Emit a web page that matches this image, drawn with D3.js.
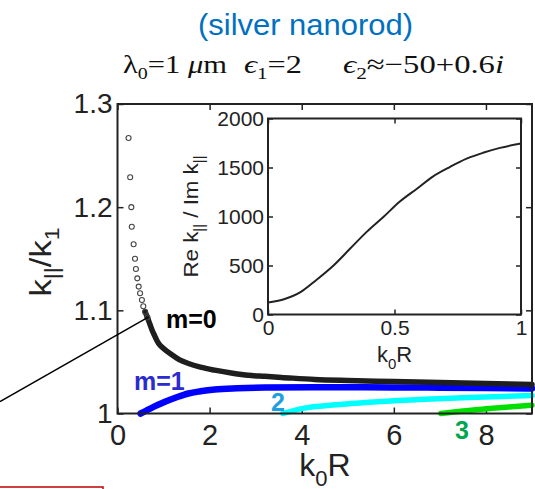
<!DOCTYPE html>
<html>
<head>
<meta charset="utf-8">
<script src="https://cdn.jsdelivr.net/npm/d3@7"></script>
<style>
  body { margin: 0; background: #fff; }
  text { font-family: "Liberation Sans", Arial, sans-serif; }
</style>
</head>
<body>
<div id="chart"></div>
<script>
// ---- data ----
// m=0, sparse open markers at small k0R
const m0MarkX = [0.24, 0.275, 0.30, 0.31, 0.35, 0.38, 0.40, 0.43, 0.46, 0.49, 0.53, 0.56, 0.60, 0.65];
const m0MarkY = [1.267, 1.229, 1.200, 1.181, 1.164, 1.150, 1.140, 1.131, 1.123, 1.1165, 1.110, 1.104, 1.0986, 1.093];
// m=0, dense part (markers overlap into a thick line)
const m0X = [0.60, 0.65, 0.70, 0.75, 0.80, 0.89, 1.0, 1.18, 1.35, 1.54, 1.8, 2.11, 2.5, 2.84, 3.2, 3.56, 4.28, 5, 6, 7, 8, 9];
const m0Y = [1.0986, 1.093, 1.087, 1.081, 1.076, 1.068, 1.063, 1.057, 1.052, 1.0485, 1.045, 1.042, 1.039, 1.037, 1.036, 1.035, 1.033, 1.032, 1.031, 1.030, 1.029, 1.028];
// m=1
const m1X = [0.5, 0.7, 1.03, 1.3, 1.54, 1.8, 2.11, 2.6, 3.2, 4.28, 5, 6, 7, 8, 9];
const m1Y = [1.0, 1.0045, 1.0113, 1.016, 1.0194, 1.0215, 1.0233, 1.0245, 1.0252, 1.0255, 1.0255, 1.0253, 1.025, 1.0247, 1.0243];
// m=2
const m2X = [3.59, 4.03, 4.75, 5.47, 6.55, 7.63, 9.0];
const m2Y = [1.0, 1.005, 1.0085, 1.011, 1.0135, 1.0155, 1.0175];
// m=3
const m3X = [7.02, 7.5, 8, 8.5, 9];
const m3Y = [1.0, 1.0025, 1.0045, 1.0063, 1.008];
// inset: Re k|| / Im k|| vs k0R (m=0)
const insetX = [0, 0.06, 0.13, 0.19, 0.26, 0.325, 0.39, 0.457, 0.52, 0.59, 0.65, 0.72, 0.785, 0.85, 0.917, 1.0];
const insetY = [122, 153, 231, 350, 503, 673, 843, 997, 1150, 1286, 1405, 1507, 1590, 1650, 1700, 1745];

// ticks
const mainXTicks = [0, 2, 4, 6, 8];
const mainYTicks = [1, 1.1, 1.2, 1.3];
const insetXTicks = [0, 0.5, 1];
const insetYTicks = [0, 500, 1000, 1500, 2000];
const modeLabels = ["m=0", "m=1", "2", "3"];

const width = 535, height = 489;
const main = {left: 117.5, right: 532, top: 104, bottom: 413.5};
const ins = {left: 268, right: 521, top: 118.5, bottom: 314.5};
const axisColor = "#222";

let svg = d3.select("#chart")
    .append("svg")
    .attr("width", width)
    .attr("height", height);

let x = d3.scaleLinear().domain([0, 9]).range([main.left, main.right]);
let y = d3.scaleLinear().domain([1, 1.3]).range([main.bottom, main.top]);

let xi = d3.scaleLinear().domain([0, 1]).range([ins.left, ins.right]);
let yi = d3.scaleLinear().domain([0, 2000]).range([ins.bottom, ins.top]);

// Titles
svg.append("text")
    .attr("x", 305.5).attr("y", 35)
    .attr("text-anchor", "middle")
    .attr("textLength", 215).attr("lengthAdjust", "spacingAndGlyphs")
    .style("font-size", "29px")
    .style("fill", "#0070c0")
    .text("(silver nanorod)");

// parameter line (serif, pieces stretched to the widths in the figure)
function paramPiece(x0, len) {
    return svg.append("text")
        .attr("x", x0).attr("y", 73)
        .attr("textLength", len).attr("lengthAdjust", "spacingAndGlyphs")
        .style("font-family", "'Liberation Serif', 'Times New Roman', serif")
        .style("font-size", "26px")
        .style("fill", "#111");
}
let p1 = paramPiece(123, 104);
p1.append("tspan").text("λ");
p1.append("tspan").attr("dy", 6).style("font-size", "17px").text("0");
p1.append("tspan").attr("dy", -6).text("=1 ");
p1.append("tspan").style("font-style", "italic").text("μ");
p1.append("tspan").text("m");
let p2 = paramPiece(244, 58);
p2.append("tspan").style("font-style", "italic").text("ϵ");
p2.append("tspan").attr("dy", 6).style("font-size", "17px").text("1");
p2.append("tspan").attr("dy", -6).text("=2");
let p3 = paramPiece(343, 161);
p3.append("tspan").style("font-style", "italic").text("ϵ");
p3.append("tspan").attr("dy", 6).style("font-size", "17px").text("2");
p3.append("tspan").attr("dy", -6).text("≈−50+0.6");
p3.append("tspan").style("font-style", "italic").text("i");

// Main axes (ticks inward on all four sides)
function styleAxis(g, size) {
    g.select(".domain").remove();
    g.selectAll("line").attr("stroke", axisColor).attr("stroke-width", 1.5);
    g.selectAll("text")
        .style("font-family", "'Liberation Sans', Arial, sans-serif")
        .style("font-size", size)
        .style("fill", axisColor);
}

svg.append("g")
    .attr("transform", `translate(0, ${main.bottom})`)
    .call(d3.axisBottom(x).tickValues(mainXTicks).tickSize(-6).tickSizeOuter(0).tickPadding(11))
    .call(g => styleAxis(g, "29px"));
svg.append("g")
    .attr("transform", `translate(0, ${main.top})`)
    .call(d3.axisTop(x).tickValues(mainXTicks).tickSize(-6).tickSizeOuter(0).tickFormat(""))
    .call(g => styleAxis(g, "28px"));
svg.append("g")
    .attr("transform", `translate(${main.left}, 0)`)
    .call(d3.axisLeft(y).tickValues(mainYTicks).tickSize(-6).tickSizeOuter(0).tickPadding(5)
        .tickFormat(d => d === 1 ? "1" : d.toFixed(1)))
    .call(g => styleAxis(g, "28px"));
svg.append("g")
    .attr("transform", `translate(${main.right}, 0)`)
    .call(d3.axisRight(y).tickValues(mainYTicks).tickSize(-6).tickSizeOuter(0).tickFormat(""))
    .call(g => styleAxis(g, "28px"));

// Axis titles
let xl = svg.append("text")
    .attr("x", 325).attr("y", 476)
    .attr("text-anchor", "middle")
    .style("font-size", "32px")
    .style("fill", axisColor);
xl.append("tspan").text("k");
xl.append("tspan").attr("dy", 10).style("font-size", "22px").text("0");
xl.append("tspan").attr("dy", -10).text("R");

let yl = svg.append("text")
    .attr("transform", "translate(51, 262) rotate(-90)")
    .attr("text-anchor", "middle")
    .attr("textLength", 69).attr("lengthAdjust", "spacingAndGlyphs")
    .style("font-size", "30px")
    .style("fill", axisColor);
yl.append("tspan").text("k");
yl.append("tspan").attr("dy", 8).style("font-size", "20px").text("||");
yl.append("tspan").attr("dy", -8).text("/k");
yl.append("tspan").attr("dy", 8).style("font-size", "20px").text("1");

// Curves
let line = d3.line()
    .x(d => x(d[0]))
    .y(d => y(d[1]))
    .curve(d3.curveMonotoneX);

svg.append("path")
    .datum(d3.zip(m3X, m3Y))
    .attr("d", line)
    .attr("fill", "none")
    .attr("stroke", "#00e000")
    .attr("stroke-width", 5.5)
    .attr("stroke-linecap", "round");

svg.append("path")
    .datum(d3.zip(m2X, m2Y))
    .attr("d", line)
    .attr("fill", "none")
    .attr("stroke", "#00ffff")
    .attr("stroke-width", 5.5)
    .attr("stroke-linecap", "round");

svg.append("path")
    .datum(d3.zip(m1X, m1Y))
    .attr("d", line)
    .attr("fill", "none")
    .attr("stroke", "#0000ff")
    .attr("stroke-width", 6.5)
    .attr("stroke-linecap", "round");

svg.append("path")
    .datum(d3.zip(m0X, m0Y))
    .attr("d", line)
    .attr("fill", "none")
    .attr("stroke", "#1e1e1e")
    .attr("stroke-width", 5.5)
    .attr("stroke-linecap", "round");

svg.selectAll("circle.m0")
    .data(d3.zip(m0MarkX, m0MarkY))
    .enter()
    .append("circle")
    .attr("class", "m0")
    .attr("cx", d => x(d[0]))
    .attr("cy", d => y(d[1]))
    .attr("r", 2.5)
    .attr("fill", "none")
    .attr("stroke", "#444")
    .attr("stroke-width", 1.1);

// Main box
svg.append("rect")
    .attr("x", main.left).attr("y", main.top)
    .attr("width", main.right - main.left)
    .attr("height", main.bottom - main.top)
    .attr("fill", "none")
    .attr("stroke", axisColor)
    .attr("stroke-width", 2);

// Mode labels
let modeColors = ["#000", "#2b2bd0", "#1ea0e0", "#00a650"];
let modePos = [[166, 328], [134, 390], [271, 411], [455, 439]];
modeLabels.forEach(function(t, i) {
    svg.append("text")
        .attr("x", modePos[i][0]).attr("y", modePos[i][1])
        .style("font-size", "25px")
        .style("font-weight", "bold")
        .style("fill", modeColors[i])
        .text(t);
});

// Pointer line to the m=0 curve
let px = x(m0MarkX[m0MarkX.length - 1]), py = y(m0MarkY[m0MarkY.length - 1]);
svg.append("line")
    .attr("x1", 0).attr("y1", py + px * 0.57)
    .attr("x2", px).attr("y2", py)
    .attr("stroke", "#000")
    .attr("stroke-width", 1.5);

// ---- Inset ----
svg.append("rect")
    .attr("x", ins.left).attr("y", ins.top)
    .attr("width", ins.right - ins.left)
    .attr("height", ins.bottom - ins.top)
    .attr("fill", "#fff");

svg.append("g")
    .attr("transform", `translate(0, ${ins.bottom})`)
    .call(d3.axisBottom(xi).tickValues(insetXTicks).tickSize(-5).tickSizeOuter(0).tickPadding(6)
        .tickFormat(d => d === 0.5 ? "0.5" : d3.format("d")(d)))
    .call(g => styleAxis(g, "21px"));
svg.append("g")
    .attr("transform", `translate(0, ${ins.top})`)
    .call(d3.axisTop(xi).tickValues(insetXTicks).tickSize(-5).tickSizeOuter(0).tickFormat(""))
    .call(g => styleAxis(g, "21px"));
svg.append("g")
    .attr("transform", `translate(${ins.left}, 0)`)
    .call(d3.axisLeft(yi).tickValues(insetYTicks).tickSize(-5).tickSizeOuter(0).tickPadding(4)
        .tickFormat(d3.format("d")))
    .call(g => styleAxis(g, "21px"));
svg.append("g")
    .attr("transform", `translate(${ins.right}, 0)`)
    .call(d3.axisRight(yi).tickValues(insetYTicks).tickSize(-5).tickSizeOuter(0).tickFormat(""))
    .call(g => styleAxis(g, "21px"));

svg.append("path")
    .datum(d3.zip(insetX, insetY))
    .attr("d", d3.line().x(d => xi(d[0])).y(d => yi(d[1])).curve(d3.curveMonotoneX))
    .attr("fill", "none")
    .attr("stroke", "#222")
    .attr("stroke-width", 2);

svg.append("rect")
    .attr("x", ins.left).attr("y", ins.top)
    .attr("width", ins.right - ins.left)
    .attr("height", ins.bottom - ins.top)
    .attr("fill", "none")
    .attr("stroke", axisColor)
    .attr("stroke-width", 2);

let ixl = svg.append("text")
    .attr("x", xi(0.5)).attr("y", 362)
    .attr("text-anchor", "middle")
    .style("font-size", "22px")
    .style("fill", axisColor);
ixl.append("tspan").text("k");
ixl.append("tspan").attr("dy", 7).style("font-size", "15px").text("0");
ixl.append("tspan").attr("dy", -7).text("R");

let iyl = svg.append("text")
    .attr("transform", `translate(198, ${(ins.top + ins.bottom) / 2}) rotate(-90)`)
    .attr("text-anchor", "middle")
    .attr("textLength", 122).attr("lengthAdjust", "spacingAndGlyphs")
    .style("font-size", "21px")
    .style("fill", axisColor);
iyl.append("tspan").text("Re k");
iyl.append("tspan").attr("dy", 6).style("font-size", "14px").text("||");
iyl.append("tspan").attr("dy", -6).text(" / Im k");
iyl.append("tspan").attr("dy", 6).style("font-size", "14px").text("||");

// red box edge at the bottom-left (cropped)
svg.append("rect")
    .attr("x", -3).attr("y", 487)
    .attr("width", 106).attr("height", 20)
    .attr("fill", "none")
    .attr("stroke", "#c00000")
    .attr("stroke-width", 1.5);
</script>
</body>
</html>
